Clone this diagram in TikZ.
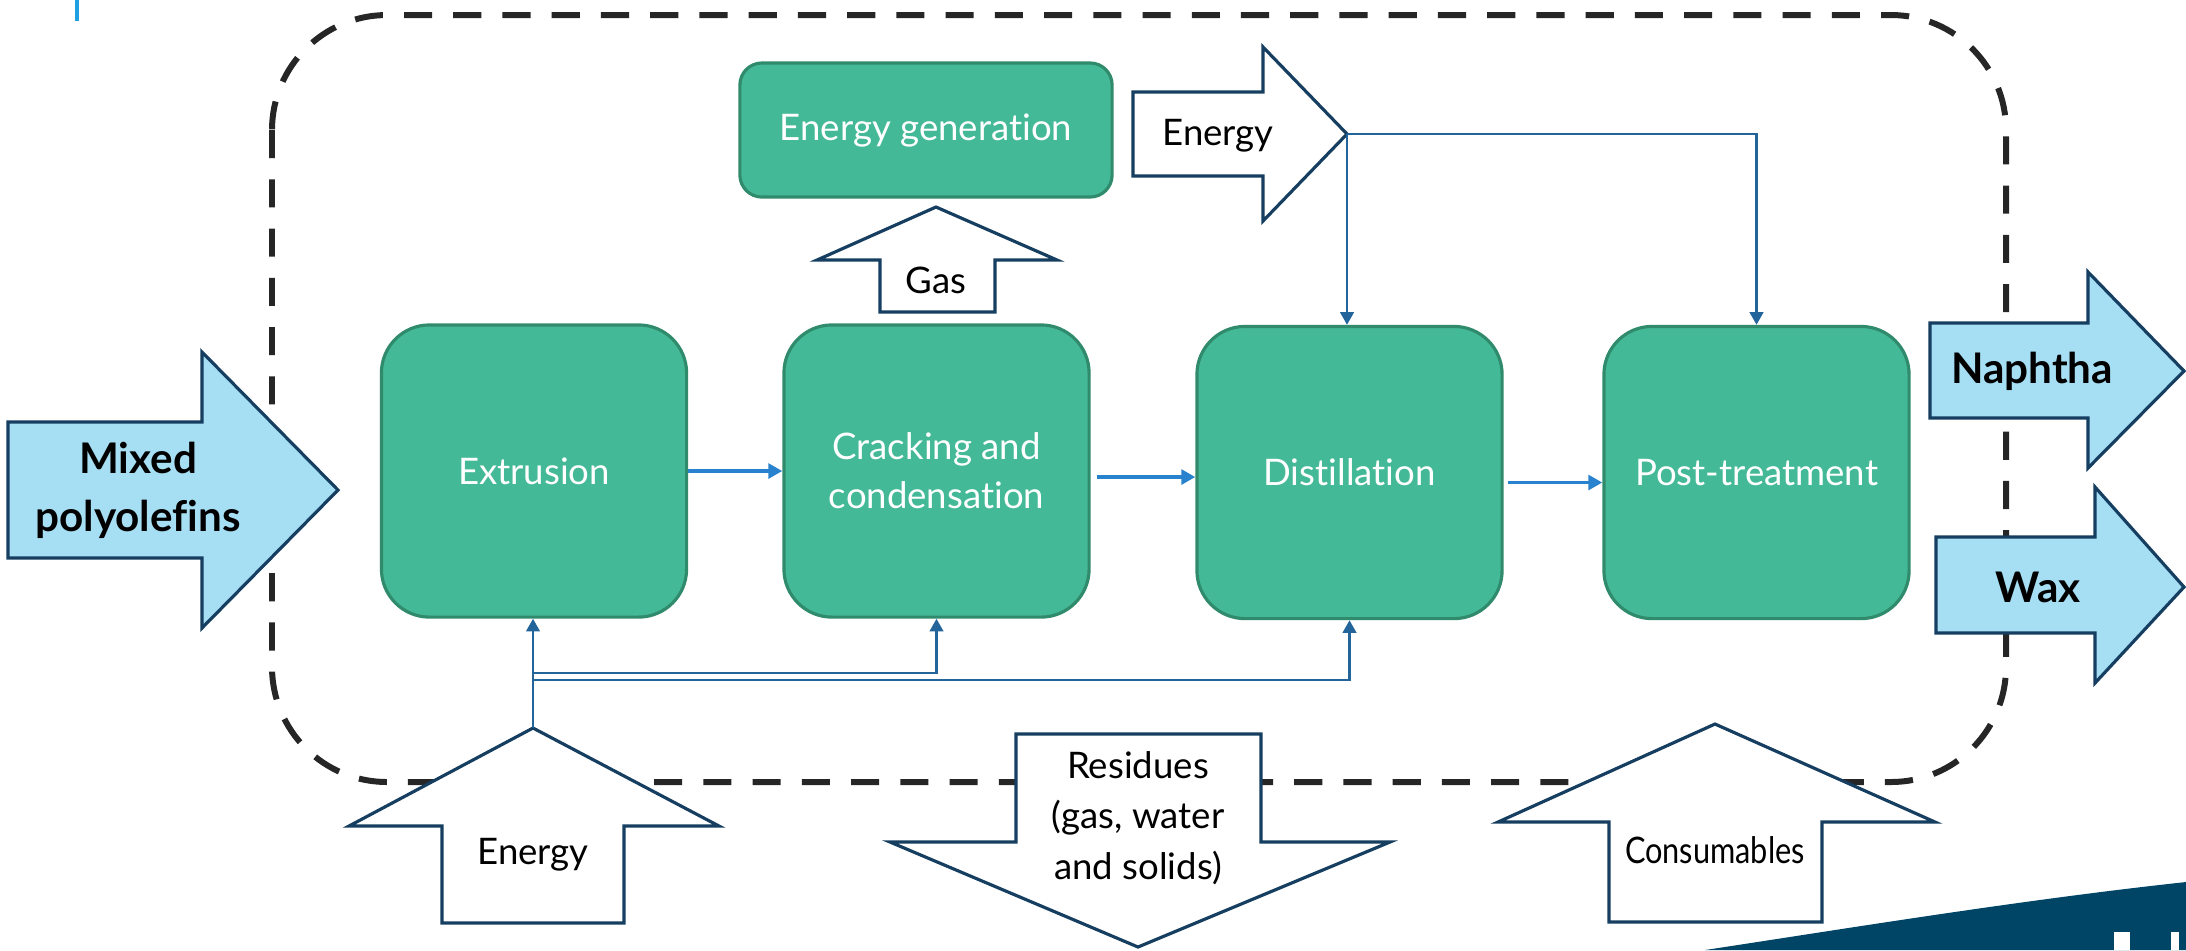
\documentclass[tikz,border=0pt]{standalone}
\usepackage{fontspec}
\setmainfont{Lato}[Ligatures=NoCommon]
\newfontfamily\condfont[FakeStretch=0.84,Ligatures=NoCommon]{Lato}
\usetikzlibrary{arrows.meta}
\definecolor{procgreen}{RGB}{68,185,151}
\definecolor{procborder}{RGB}{48,138,108}
\definecolor{flowblue}{RGB}{40,130,205}
\definecolor{feedblue}{RGB}{35,100,155}
\definecolor{arrowline}{RGB}{22,62,96}
\definecolor{prodblue}{RGB}{166,222,243}
\definecolor{framegray}{RGB}{38,38,38}
\definecolor{logonavy}{RGB}{0,68,102}
\definecolor{markblue}{RGB}{30,160,225}
\tikzset{
  proc/.style={draw=procborder, fill=procgreen, line width=0.9pt, rounded corners=0.48cm,
    text=white, align=center, font=\fontsize{10.4}{14}\selectfont,
    minimum width=3.05cm, minimum height=2.92cm},
  blockpfeil/.style={draw=arrowline, line width=0.9pt, line join=miter},
  txt/.style={align=center, font=\fontsize{10.4}{14}\selectfont},
  prodtxt/.style={align=center, font=\fontsize{12}{16.5}\selectfont\bfseries},
  flow/.style={draw=flowblue, line width=1pt, -{Triangle[length=4pt,width=4.2pt]}},
  feed/.style={draw=feedblue, line width=0.8pt, -{Triangle[length=3.6pt,width=3.8pt]}}
}
\begin{document}
\begin{tikzpicture}[x=0.01cm, y=-0.01cm]
  \useasboundingbox (0,0) rectangle (2186,950);
  \draw[markblue, line width=1pt] (77,0) -- (77,21);
  % Systemgrenze
  \draw[framegray, line width=1.7pt, dash pattern=on 8pt off 6pt, rounded corners=1.15cm] (272,15) rectangle (2006,782);
  % Prozessschritte
  \node[proc] (ext) at (534,471) {Extrusion};
  \node[proc] (crk) at (936.5,471) {Cracking and\\condensation};
  \node[proc] (dst) at (1349.5,472.5) {Distillation};
  \node[proc] (pst) at (1756.5,472.5) {Post-treatment};
  \node[proc, rounded corners=0.22cm, minimum width=3.72cm, minimum height=1.34cm] (egen) at (926,130) {Energy generation};
  % Eingang
  \draw[blockpfeil, fill=prodblue] (8,422) -- (202,422) -- (202,352) -- (338,490) -- (202,628) -- (202,558) -- (8,558) -- cycle;
  \node[prodtxt] (mix) at (138,490) {Mixed\\polyolefins};
  % Produkte
  \draw[blockpfeil, fill=prodblue] (1930,323) -- (2088,323) -- (2088,272) -- (2184,371) -- (2088,468) -- (2088,418) -- (1930,418) -- cycle;
  \node[prodtxt] (nap) at (2032,371) {Naphtha};
  \draw[blockpfeil, fill=prodblue] (1936,537) -- (2095,537) -- (2095,487) -- (2184,587) -- (2095,683) -- (2095,633) -- (1936,633) -- cycle;
  \node[prodtxt] (wax) at (2038,587) {Wax};
  % Gas zur Energieerzeugung
  \draw[blockpfeil, fill=white] (936,207) -- (1057,260) -- (995,260) -- (995,312) -- (880,312) -- (880,260) -- (817,260) -- cycle;
  \node[txt] (gas) at (936,280) {Gas};
  % Energie oben
  \draw[blockpfeil, fill=white] (1133,92) -- (1263,92) -- (1263,47) -- (1347,134) -- (1263,221) -- (1263,176) -- (1133,176) -- cycle;
  \node[txt] (eoben) at (1218,136) {Energy};
  \coordinate (otip) at (1347,134);
  % Energie unten
  \draw[blockpfeil, fill=white] (533,728) -- (719,826) -- (624,826) -- (624,923) -- (442,923) -- (442,826) -- (349,826) -- cycle;
  \node[txt] (eunten) at (533,855) {Energy};
  \coordinate (utip) at (533,728);
  % Rueckstaende
  \draw[blockpfeil, fill=white] (1016,734) -- (1261,734) -- (1261,842) -- (1390,842) -- (1138,947) -- (890,842) -- (1016,842) -- cycle;
  \node[txt, font=\fontsize{10.4}{14.3}\selectfont] (res) at (1138,818) {Residues\\(gas, water\\and solids)};
  % Betriebsmittel
  \draw[blockpfeil, fill=white] (1715,724) -- (1935,822) -- (1822,822) -- (1822,922) -- (1609,922) -- (1609,822) -- (1498,822) -- cycle;
  \node[txt, font=\condfont\fontsize{10.4}{14}\selectfont] (cons) at (1715,850) {Consumables};
  % Hauptstrom
  \draw[flow] (ext.east) -- (crk.west);
  \draw[flow, shorten <=0.06cm] ([yshift=-0.06cm]crk.east) -- ([yshift=-0.06cm]crk.east -| dst.west);
  \draw[flow, shorten <=0.04cm] ([yshift=-0.1cm]dst.east) -- ([yshift=-0.1cm]dst.east -| pst.west);
  % Energieverteilung
  \coordinate (abzw1) at (533,673);
  \coordinate (abzw2) at (533,680);
  \draw[feed] (utip) -- (utip |- ext.south);
  \draw[feed] (abzw1) -| (crk.south);
  \draw[feed] (abzw2) -| (dst.south);
  \draw[feed] (otip) -- (otip |- dst.north);
  \draw[feed] (otip) -| (pst.north);
  % Logo-Ecke
  \fill[logonavy] (1705,950) .. controls (1850,928) and (2020,900) .. (2186,882) -- (2186,950) -- cycle;
  \fill[white] (2114,932) rectangle (2130,950);
  \fill[white] (2171,932) rectangle (2179,950);
\end{tikzpicture}
\end{document}
